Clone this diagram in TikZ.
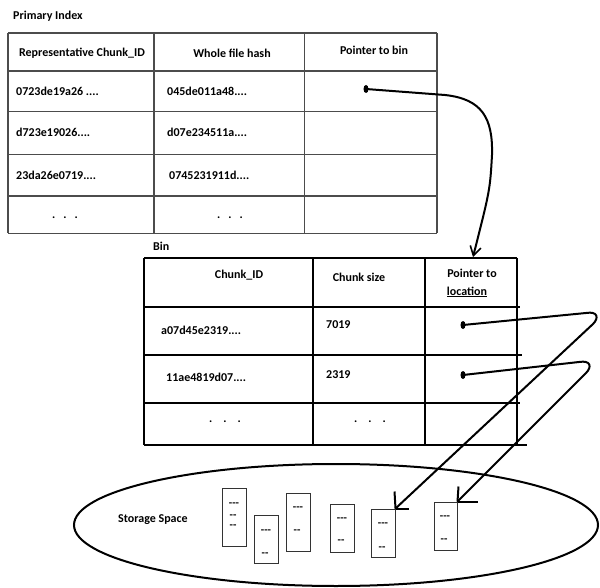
\documentclass[tikz,border=0pt]{standalone}
\usepackage{fontspec}
\setmainfont{Carlito}
\usetikzlibrary{arrows.meta,shapes.geometric}
\begin{document}
\begin{tikzpicture}[x=1pt,y=-1pt,
  txt/.style={font=\fontsize{12}{14}\selectfont\bfseries, inner sep=0pt},
  tiny/.style={font=\fontsize{11}{12}\selectfont\bfseries, inner sep=0pt},
  pline/.style={draw=black!70, line width=1.3pt},
  bvline/.style={draw=black, line width=1.4pt},
  bhline/.style={draw=black, line width=2.4pt},
  pdot/.style={ellipse, fill=black, inner sep=0pt, minimum width=5pt, minimum height=8pt},
  conn/.style={draw=black, line width=2pt, line cap=round, line join=round},
  barb/.style={draw=black, line width=2pt},
  sbox/.style={draw=black!80, line width=1pt, minimum width=24pt, inner sep=0pt}
]
\useasboundingbox (0,0) rectangle (600,588);

% ---------- Primary Index ----------
\node[txt, anchor=west] (ptitle) at (13,16) {Primary Index};
\draw[pline] (8,33) -- (437,33);
\foreach \yy in {71,111.5,154.5,196,233.5} \draw[pline] (8,\yy) -- (437,\yy);
\foreach \xx in {8,154,304.5,437} \draw[pline] (\xx,33) -- (\xx,233.5);

\node[txt] (h1) at (82,53) {Representative Chunk\_ID};
\node[txt] (h2) at (232,53) {Whole file hash};
\node[txt] (h3) at (374,50) {Pointer to bin};

\node[txt, anchor=west] (r1a) at (16,91) {0723de19a26 ....};
\node[txt, anchor=west] (r1b) at (167,91) {045de011a48....};
\node[txt, anchor=west] (r2a) at (16,132) {d723e19026....};
\node[txt, anchor=west] (r2b) at (167,132) {d07e234511a....};
\node[txt, anchor=west] (r3a) at (16,175) {23da26e0719....};
\node[txt, anchor=west] (r3b) at (169,175) {0745231911d....};
\node[txt] (r4a) at (65,218) {.\hspace{8pt}.\hspace{8pt}.};
\node[txt] (r4b) at (230,218) {.\hspace{8pt}.\hspace{8pt}.};

\node[pdot] (pd) at (366,89) {};

% ---------- Bin ----------
\node[txt, anchor=west] (btitle) at (153,246) {Bin};
\draw[bhline, line width=1.8pt] (144,258) -- (517,258);
\draw[bhline] (144,307) -- (520,307);
\draw[bhline] (144,355) -- (522,355);
\draw[bhline] (144,403) -- (520,403);
\draw[bhline] (144,445) -- (527,445);
\foreach \xx in {144,313,425} \draw[bvline] (\xx,258) -- (\xx,445);
\draw[bvline, line width=1.8pt] (517,258) -- (517,445);

\node[txt] (bh1) at (239,275) {Chunk\_ID};
\node[txt] (bh2) at (359,277) {Chunk size};
\node[txt] (bh3) at (472,273) {Pointer to};
\node[txt] (bh4) at (467,292) {\underline{location}};

\node[txt, anchor=west] (b1a) at (161,330) {a07d45e2319....};
\node[txt, anchor=west] (b1b) at (326,325) {7019};
\node[txt, anchor=west] (b2a) at (166,377) {11ae4819d07....};
\node[txt, anchor=west] (b2b) at (326,375) {2319};
\node[txt] (b3a) at (225,422) {.\hspace{11pt}.\hspace{11pt}.};
\node[txt] (b3b) at (370,422) {.\hspace{11pt}.\hspace{11pt}.};

\node[pdot] (bd1) at (463,325) {};
\node[pdot] (bd2) at (463,375) {};
\coordinate (bintop) at (473,257);

% ---------- Storage ----------
\draw[line width=2pt] (336,525) ellipse [x radius=262, y radius=61];
\node[txt, anchor=west] (stitle) at (118,520) {Storage Space};

\node[sbox, minimum height=58pt] (s1) at (234,517) {};
\node[sbox, minimum height=48pt] (s2) at (266,539) {};
\node[sbox, minimum height=58pt] (s3) at (298,522) {};
\node[sbox, minimum height=48pt] (s4) at (342,528) {};
\node[sbox, minimum height=48pt] (s5) at (383,533) {};
\node[sbox, minimum height=48pt, minimum width=23pt] (s6) at (445.5,526) {};

\node[tiny] (s1a) at (234,505) {-{}-{}-};
\node[tiny] (s1b) at (233,517) {-{}-};
\node[tiny] (s1c) at (233,527) {-{}-};
\node[tiny] (s2a) at (266,532) {-{}-{}-};
\node[tiny] (s2b) at (265,555) {-{}-};
\node[tiny] (s3a) at (298,509) {-{}-{}-};
\node[tiny] (s3b) at (297,532) {-{}-};
\node[tiny] (s4a) at (342,520) {-{}-{}-};
\node[tiny] (s4b) at (341,542) {-{}-};
\node[tiny] (s5a) at (383,525) {-{}-{}-};
\node[tiny] (s5b) at (382,549) {-{}-};
\node[tiny] (s6a) at (445,518) {-{}-{}-};
\node[tiny] (s6b) at (444,541) {-{}-};

% ---------- Connectors ----------
\draw[conn, -{Straight Barb[length=9pt,width=11pt,line width=1.6pt]}]
  (pd.center) -- (445,95) .. controls (482,99) and (493,118) .. (492,155)
  .. controls (490,190) .. (bintop);

\draw[conn] (bd1.center) -- (586,313) .. controls (598,311) and (599,318) .. (593,324) -- (s5.north east);
\draw[conn] (bd2.center) -- (579,362) .. controls (591,360) and (592,367) .. (586,373) -- (s6.north east);

\draw[barb] (s5.north east) -- ++(-1,-17);
\draw[barb] (s5.north east) -- ++(13,0);
\draw[barb] (s6.north east) -- ++(1,-15);
\draw[barb] (s6.north east) -- ++(20,0);
\end{tikzpicture}
\end{document}
